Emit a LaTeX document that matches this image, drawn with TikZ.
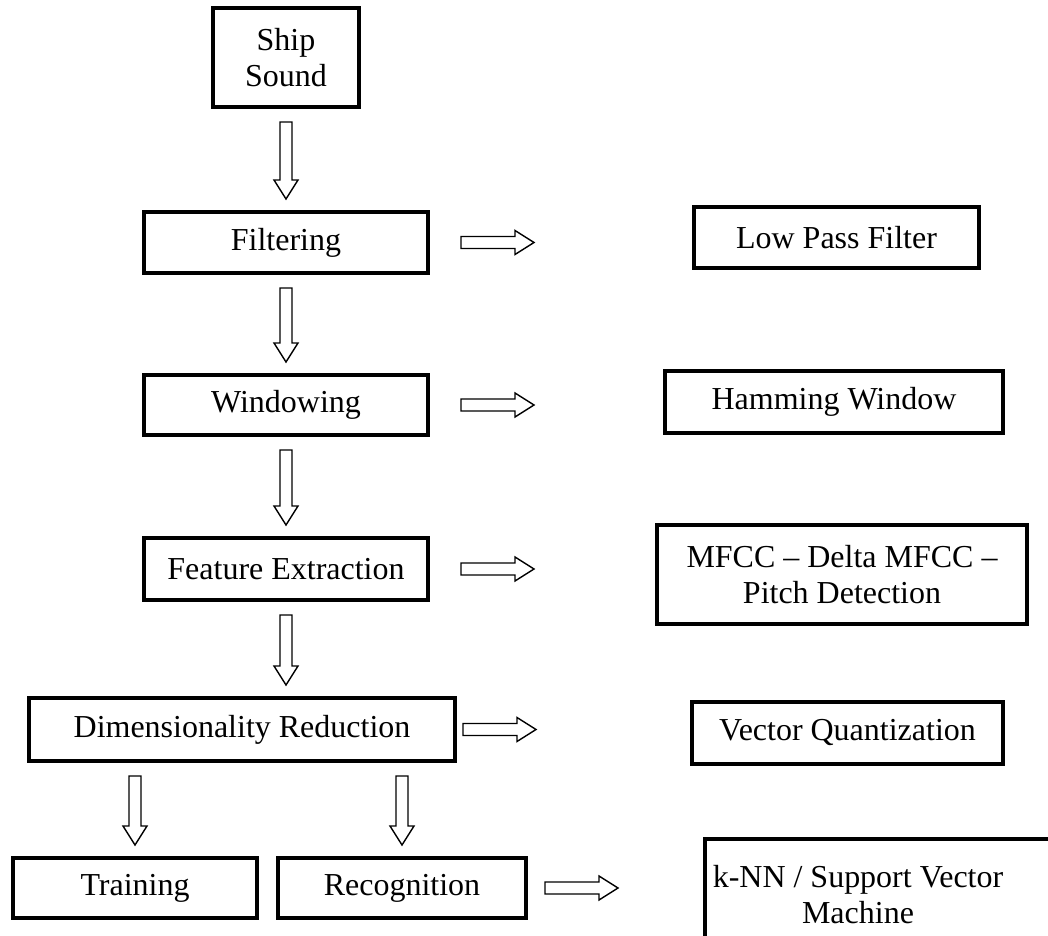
\documentclass[tikz,border=0pt]{standalone}
\usepackage{fontspec}
\setmainfont{Liberation Serif}
\usetikzlibrary{positioning,calc}

\begin{document}
\begin{tikzpicture}[
	box/.style={draw, line width=.9pt, inner sep=0pt, outer sep=0pt, align=center, font=\fontsize{9.1}{10}\selectfont}, % text boxes
	darrow/.style={line width=.4pt, to path={let \p1=(\tikztostart), \p2=(\tikztotarget) in
		(\x1-.6mm,\y1-1.5mm) -- (\x1-.6mm,\y2+3.2mm) -- (\x1-1.2mm,\y2+3.2mm) -- (\x1,\y2+1.3mm)
		-- (\x1+1.2mm,\y2+3.2mm) -- (\x1+.6mm,\y2+3.2mm) -- (\x1+.6mm,\y1-1.5mm) -- cycle}}, % hollow arrow down
	rarrow/.style={line width=.4pt, to path={let \p1=(\tikztostart) in
		(\x1+#1,\y1+.6mm) -- (\x1+#1+5.4mm,\y1+.6mm) -- (\x1+#1+5.4mm,\y1+1.2mm) -- (\x1+#1+7.3mm,\y1)
		-- (\x1+#1+5.4mm,\y1-1.2mm) -- (\x1+#1+5.4mm,\y1-.6mm) -- (\x1+#1,\y1-.6mm) -- cycle}}, % hollow arrow right
	]

	\useasboundingbox (0,0) rectangle (10.48,-9.36);

	% Nodes and their relative positions
	\node[box, minimum width=1.46cm, minimum height=.99cm] (ship) at (2.86,-.575) {Ship\\Sound};
	\node[box, minimum width=2.84cm, minimum height=.61cm, below = 1.05 of ship] (filt) {Filtering};
	\node[box, minimum width=2.84cm, minimum height=.60cm, below = 1.02 of filt] (wind) {Windowing};
	\node[box, minimum width=2.84cm, minimum height=.62cm, below = 1.03 of wind] (feat) {Feature Extraction};
	\node[box, minimum width=4.26cm, minimum height=.63cm, below = .98 of feat, xshift=-.44cm] (dimred) {Dimensionality Reduction};
	\node[box, minimum width=2.44cm, minimum height=.60cm, below right = .97 and -.16 of dimred.south west] (train) {Training};
	\node[box, minimum width=2.48cm, minimum height=.60cm, right = .21 of train] (recog) {Recognition};

	\node[box, minimum width=2.85cm, minimum height=.61cm, right = 2.66 of filt, yshift=.05cm] (lpf) {Low Pass Filter};
	\node[box, minimum width=3.38cm, minimum height=.62cm, right = 2.37 of wind, yshift=.03cm] (hamm) {Hamming Window};
	\node[box, minimum width=3.70cm, minimum height=.99cm, right = 2.29 of feat, yshift=-.055cm] (mfcc) {MFCC – Delta MFCC –\\Pitch Detection};
	\node[box, minimum width=3.11cm, minimum height=.62cm, right = 2.37 of dimred, yshift=-.035cm] (vq) {Vector Quantization};
	\node[box, align=flush center, minimum height=1.11cm, text width=3.65cm, right = 1.79 of recog, yshift=-.065cm] (knn) {\hspace*{-.59cm}k-NN / Support Vector\\\hspace*{-.59cm}Machine};

	% Paths connecting nodes
	\path[darrow] (ship.south) edge (filt.north);
	\path[darrow] (filt.south) edge (wind.north);
	\path[darrow] (wind.south) edge (feat.north);
	\path[darrow] (feat.south) edge (dimred.north -| feat.south);
	\path[darrow] (train.north |- dimred.south) edge (train.north);
	\path[darrow] (recog.north |- dimred.south) edge (recog.north);

	\path[rarrow=3.3mm] (filt.east) edge (lpf.west);
	\path[rarrow=3.3mm] (wind.east) edge (hamm.west);
	\path[rarrow=3.3mm] (feat.east) edge (mfcc.west);
	\path[rarrow=.8mm] (dimred.east) edge (vq.west);
	\path[rarrow=1.9mm] (recog.east) edge (knn.west);

\end{tikzpicture}
\end{document}
